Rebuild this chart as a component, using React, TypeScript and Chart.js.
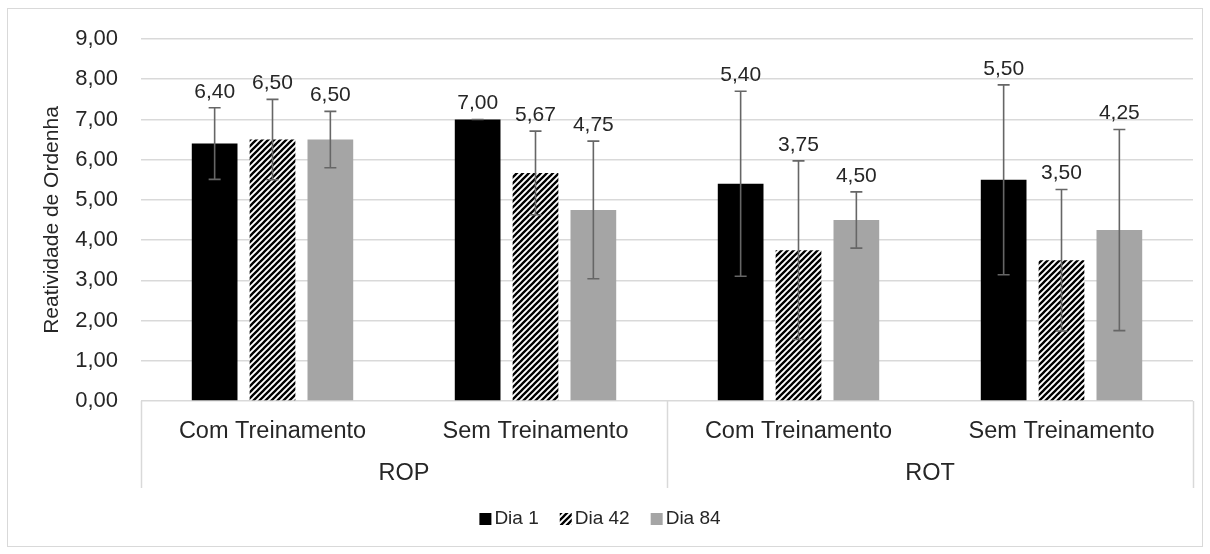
import React, { useEffect, useRef } from 'react';
import { Chart, registerables } from 'chart.js';

Chart.register(...registerables);

const categories = ['Com Treinamento', 'Sem Treinamento', 'Com Treinamento', 'Sem Treinamento'];
const groups = ['ROP', 'ROT'];
const seriesNames = ['Dia 1', 'Dia 42', 'Dia 84'];
const dia1 = [6.4, 7.0, 5.4, 5.5];
const dia42 = [6.5, 5.67, 3.75, 3.5];
const dia84 = [6.5, 4.75, 4.5, 4.25];
const err1 = [0.89, 0, 2.3, 2.36];
const err42 = [1.0, 1.04, 2.22, 1.76];
const err84 = [0.7, 1.71, 0.7, 2.5];
const yMin = 0;
const yMax = 9;
const yStep = 1;
const yTitle = 'Reatividade de Ordenha';

const FONT = "'Liberation Sans', Arial, sans-serif";
const TEXT = '#262626';

const fmt = (v: number) => v.toFixed(2).replace('.', ',');

function makeHatch(): CanvasPattern | string {
  const s = 6;
  const c = document.createElement('canvas');
  c.width = s;
  c.height = s;
  const g = c.getContext('2d');
  if (!g) return '#000';
  g.fillStyle = '#fff';
  g.fillRect(0, 0, s, s);
  g.strokeStyle = '#000';
  g.lineWidth = 2.3;
  g.beginPath();
  g.moveTo(-1, 1); g.lineTo(1, -1);
  g.moveTo(0, s); g.lineTo(s, 0);
  g.moveTo(s - 1, s + 1); g.lineTo(s + 1, s - 1);
  g.stroke();
  const p = g.createPattern(c, 'repeat');
  return p || '#000';
}

export default function App() {
  const ref = useRef<HTMLCanvasElement | null>(null);

  useEffect(() => {
    const canvas = ref.current;
    if (!canvas) return;
    const hatch = makeHatch();
    const errs = [err1, err42, err84];

    const custom = {
      id: 'custom',
      afterDatasetsDraw(chart: any) {
        const ctx = chart.ctx as CanvasRenderingContext2D;
        const y = chart.scales.y;
        chart.data.datasets.forEach((ds: any, i: number) => {
          const meta = chart.getDatasetMeta(i);
          meta.data.forEach((bar: any, j: number) => {
            const v = ds.data[j] as number;
            const e = errs[i][j];
            const yt = y.getPixelForValue(v + e);
            const yb = y.getPixelForValue(v - e);
            const x = bar.x;
            ctx.save();
            ctx.strokeStyle = '#666666';
            ctx.lineWidth = 1.6;
            ctx.beginPath();
            ctx.moveTo(x, yt); ctx.lineTo(x, yb);
            ctx.moveTo(x - 6, yt); ctx.lineTo(x + 6, yt);
            ctx.moveTo(x - 6, yb); ctx.lineTo(x + 6, yb);
            ctx.stroke();
            ctx.fillStyle = TEXT;
            ctx.font = `21px ${FONT}`;
            ctx.textAlign = 'center';
            ctx.textBaseline = 'middle';
            ctx.fillText(fmt(v), x, yt - 16);
            ctx.restore();
          });
        });
      },
      afterDraw(chart: any) {
        const ctx = chart.ctx as CanvasRenderingContext2D;
        const xs = chart.scales.x;
        const area = chart.chartArea;
        const catW = (area.right - area.left) / categories.length;
        ctx.save();
        // category labels
        ctx.fillStyle = TEXT;
        ctx.textAlign = 'center';
        ctx.textBaseline = 'middle';
        ctx.font = `23.5px ${FONT}`;
        categories.forEach((c, i) => {
          ctx.fillText(c, xs.getPixelForValue(i), 432);
        });
        // group labels
        groups.forEach((g, gi) => {
          const cx = (xs.getPixelForValue(gi * 2) + xs.getPixelForValue(gi * 2 + 1)) / 2;
          ctx.fillText(g, cx, 474);
        });
        // separators
        ctx.strokeStyle = '#d9d9d9';
        ctx.lineWidth = 1.5;
        ctx.beginPath();
        for (let gi = 0; gi <= groups.length; gi++) {
          const sx = Math.round(area.left + gi * 2 * catW) + 0.5;
          ctx.moveTo(sx, area.bottom);
          ctx.lineTo(sx, 488);
        }
        ctx.stroke();
        // y title
        ctx.save();
        ctx.translate(52, (area.top + area.bottom) / 2);
        ctx.rotate(-Math.PI / 2);
        ctx.font = `21px ${FONT}`;
        ctx.fillStyle = TEXT;
        ctx.fillText(yTitle, 0, 0);
        ctx.restore();
        // legend
        ctx.font = `19px ${FONT}`;
        const box = 12;
        const gapBT = 3;
        const gapItem = 21;
        const fills = chart.data.datasets.map((d: any) => d.backgroundColor);
        const widths = seriesNames.map((n) => box + gapBT + ctx.measureText(n).width);
        const total = widths.reduce((a, b) => a + b, 0) + gapItem * (seriesNames.length - 1);
        let lx = 600 - total / 2;
        const ly = 519;
        seriesNames.forEach((n, i) => {
          ctx.fillStyle = fills[i];
          ctx.fillRect(lx, ly - 6, box, box);
          ctx.fillStyle = TEXT;
          ctx.textAlign = 'left';
          ctx.fillText(n, lx + box + gapBT, ly);
          lx += widths[i] + gapItem;
        });
        // outer border
        ctx.strokeStyle = '#d9d9d9';
        ctx.lineWidth = 1;
        ctx.strokeRect(7.5, 8.5, 1195, 538);
        ctx.restore();
      },
    };

    const chart = new Chart(canvas, {
      type: 'bar',
      data: {
        labels: categories,
        datasets: [
          { label: seriesNames[0], data: dia1, backgroundColor: '#000000', categoryPercentage: 0.66, barPercentage: 0.79 },
          { label: seriesNames[1], data: dia42, backgroundColor: hatch as any, categoryPercentage: 0.66, barPercentage: 0.79 },
          { label: seriesNames[2], data: dia84, backgroundColor: '#a5a5a5', categoryPercentage: 0.66, barPercentage: 0.79 },
        ],
      },
      options: {
        responsive: false,
        animation: false,
        devicePixelRatio: 1,
        layout: { padding: { left: 0, right: 17, top: 39, bottom: 0 } },
        plugins: { legend: { display: false }, tooltip: { enabled: false } },
        scales: {
          x: {
            ticks: { display: false },
            grid: { display: false },
            border: { display: false },
            afterFit: (s: any) => { s.height = 153; },
          },
          y: {
            min: yMin,
            max: yMax,
            ticks: {
              stepSize: yStep,
              padding: 23,
              color: TEXT,
              font: { family: FONT, size: 22 },
              callback: (v: any) => fmt(Number(v)),
            },
            grid: { color: '#d9d9d9', lineWidth: 1.5, drawTicks: false },
            border: { display: false },
            afterFit: (s: any) => { s.width = 141; },
          },
        },
      },
      plugins: [custom],
    });
    return () => chart.destroy();
  }, []);

  return (
    <div style={{ position: 'absolute', left: 0, top: 0, width: 1210, height: 554, background: '#fff' }}>
      <canvas ref={ref} width={1210} height={554} style={{ display: 'block' }} />
    </div>
  );
}
